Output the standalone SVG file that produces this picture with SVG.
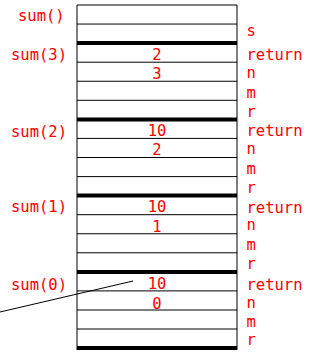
<svg xmlns="http://www.w3.org/2000/svg" width="322" height="352" viewBox="0 0 322 352">
<style>
text{font-family:"DejaVu Sans Mono","Liberation Mono",monospace;font-size:15.5px;fill:#ff0000}
.v{text-anchor:middle}
.thin{stroke:#000;stroke-width:1}
.thick{stroke:#000;stroke-width:4}
.side{stroke:#000;stroke-width:1}
</style>
<rect width="322" height="352" fill="#fff"/>
<g id="stack">
<line class="thin" x1="77" y1="5" x2="237" y2="5"/>
<line class="thin" x1="77" y1="24.06" x2="237" y2="24.06"/>
<line class="thick" x1="77" y1="43.1" x2="237" y2="43.1"/>
<line class="thin" x1="77" y1="62.2" x2="237" y2="62.2"/>
<line class="thin" x1="77" y1="81.25" x2="237" y2="81.25"/>
<line class="thin" x1="77" y1="100.3" x2="237" y2="100.3"/>
<line class="thick" x1="77" y1="119.4" x2="237" y2="119.4"/>
<line class="thin" x1="77" y1="138.4" x2="237" y2="138.4"/>
<line class="thin" x1="77" y1="157.5" x2="237" y2="157.5"/>
<line class="thin" x1="77" y1="176.6" x2="237" y2="176.6"/>
<line class="thick" x1="77" y1="195.6" x2="237" y2="195.6"/>
<line class="thin" x1="77" y1="214.7" x2="237" y2="214.7"/>
<line class="thin" x1="77" y1="233.75" x2="237" y2="233.75"/>
<line class="thin" x1="77" y1="252.8" x2="237" y2="252.8"/>
<line class="thick" x1="77" y1="271.9" x2="237" y2="271.9"/>
<line class="thin" x1="77" y1="290.9" x2="237" y2="290.9"/>
<line class="thin" x1="77" y1="310" x2="237" y2="310"/>
<line class="thin" x1="77" y1="329" x2="237" y2="329"/>
<line class="thick" x1="77" y1="348" x2="237" y2="348"/>
<line class="side" x1="77" y1="5" x2="77" y2="350"/>
<line class="side" x1="237" y1="5" x2="237" y2="350"/>
</g>
<g id="frame-main">
<text x="18" y="21">sum()</text>
<text x="246.5" y="36">s</text>
</g>
<g id="frame-sum3">
<text x="11" y="60">sum(3)</text>
<text class="v" x="157" y="59.6">2</text>
<text class="v" x="157" y="79">3</text>
<text x="246.5" y="60">return</text>
<text x="246.5" y="77.6">n</text>
<text x="246.5" y="97.6">m</text>
<text x="246.5" y="116.5">r</text>
</g>
<g id="frame-sum2">
<text x="11" y="136.5">sum(2)</text>
<text class="v" x="157" y="135.9">10</text>
<text class="v" x="157" y="155.3">2</text>
<text x="246.5" y="136.3">return</text>
<text x="246.5" y="153.9">n</text>
<text x="246.5" y="173.9">m</text>
<text x="246.5" y="192.8">r</text>
</g>
<g id="frame-sum1">
<text x="11" y="212">sum(1)</text>
<text class="v" x="157" y="212.1">10</text>
<text class="v" x="157" y="231.5">1</text>
<text x="246.5" y="212.5">return</text>
<text x="246.5" y="230.1">n</text>
<text x="246.5" y="250.1">m</text>
<text x="246.5" y="269">r</text>
</g>
<g id="frame-sum0">
<text x="11" y="289.5">sum(0)</text>
<text class="v" x="157" y="289">10</text>
<text class="v" x="157" y="308.5">0</text>
<text x="246.5" y="289.5">return</text>
<text x="246.5" y="307.5">n</text>
<text x="246.5" y="326.5">m</text>
<text x="246.5" y="345">r</text>
</g>
<g id="connectors">
<line x1="0" y1="312" x2="133" y2="281" stroke="#000" stroke-width="1"/>
</g>
</svg>
